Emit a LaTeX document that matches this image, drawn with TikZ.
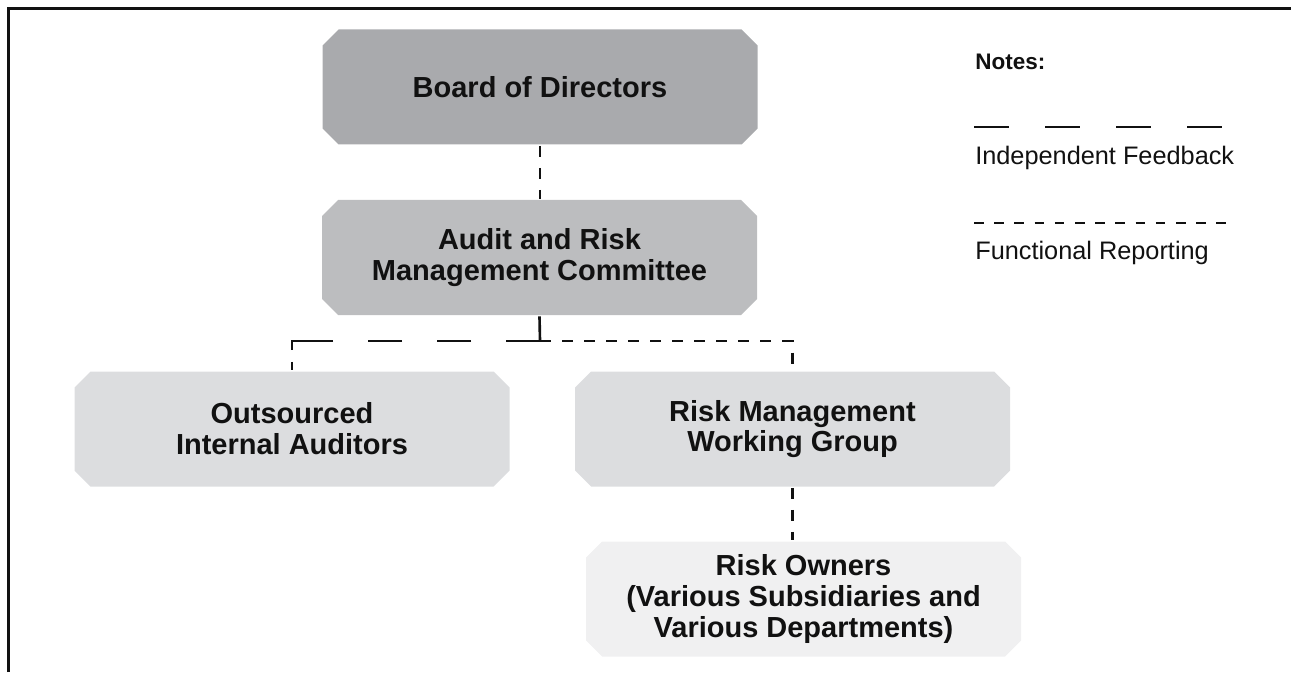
\documentclass[tikz,border=0pt]{standalone}
\usepackage{fontspec}
\setmainfont{Liberation Sans}
\usetikzlibrary{shapes.misc}
\definecolor{ink}{HTML}{111111}
\definecolor{board}{HTML}{A9AAAD}
\definecolor{committee}{HTML}{BCBDBF}
\definecolor{unit}{HTML}{DCDDDF}
\definecolor{owner}{HTML}{F0F0F1}

\begin{document}
\begin{tikzpicture}[
    line width=1.5pt, color=ink,
    box/.style={chamfered rectangle, chamfered rectangle xsep=0.16cm, chamfered rectangle ysep=0.16cm,
                minimum width=8.70cm, minimum height=2.30cm, inner sep=0pt, draw=none,
                align=center, text=ink, font=\bfseries\fontsize{16.5}{17.5}\selectfont},
    independent/.style={dash pattern=on 0.68cm off 0.70cm},
    functional/.style={dash pattern=on 0.22cm off 0.22cm},
    notetext/.style={anchor=west, inner sep=0pt, text=ink, font=\fontsize{14.4}{16}\selectfont}]
  % fixed canvas, same shape as the scan
  \path[use as bounding box] (0,0) rectangle (25.82,13.44);
  % frame (only left and top edges are inside the crop)
  \draw[line width=1.7pt] (0.174,0) -- (0.174,13.266) -- (25.82,13.266);

  % ================= boxes =================
  \node[box, fill=board] (board) at (10.80,11.70) {Board of Directors};
  \node[box, fill=committee] (arc) at (10.79,8.29) {Audit and Risk\\Management Committee};
  \node[box, fill=unit] (auditors) at (5.84,4.86) {Outsourced\\Internal Auditors};
  \node[box, fill=unit] (rmwg) at (15.85,4.86) {Risk Management\\Working Group};
  \node[box, fill=owner] (owners) at (16.07,1.46) {Risk Owners\\(Various Subsidiaries and\\Various Departments)};

  % ================= reporting lines =================
  \coordinate (split) at (10.80,6.62);
  \draw[functional] (board.south) -- (board.south |- arc.north);
  \draw (arc.south) -- (split);
  % long dashes, last one bent round the corner
  \draw[independent, dash pattern=on 0.68cm off 0.70cm on 0.68cm off 0.70cm on 0.68cm off 0.70cm on 1.00cm off 0.24cm on 0.40cm]
    (split) -| (auditors.north);
  \draw[functional] (split) -| (rmwg.north);
  \draw[functional] (rmwg.south) -- (rmwg.south |- owners.north);

  % ================= notes =================
  \node[anchor=west, inner sep=0pt, text=ink, font=\bfseries\fontsize{12.8}{14}\selectfont] (notes) at (19.48,12.20) {Notes:};
  \coordinate (ifa) at (19.48,10.90);
  \coordinate (ifb) at (24.44,10.90);
  \draw[dash pattern=on 0.70cm off 0.72cm] (ifa) -- (ifb);
  \node[notetext] (iflab) at (19.48,10.28) {Independent Feedback};
  \coordinate (fra) at (19.48,8.98);
  \coordinate (frb) at (24.52,8.98);
  \draw[dash pattern=on 0.19cm off 0.214cm] (fra) -- (frb);
  \node[notetext] (frlab) at (19.48,8.38) {Functional Reporting};
\end{tikzpicture}
\end{document}
